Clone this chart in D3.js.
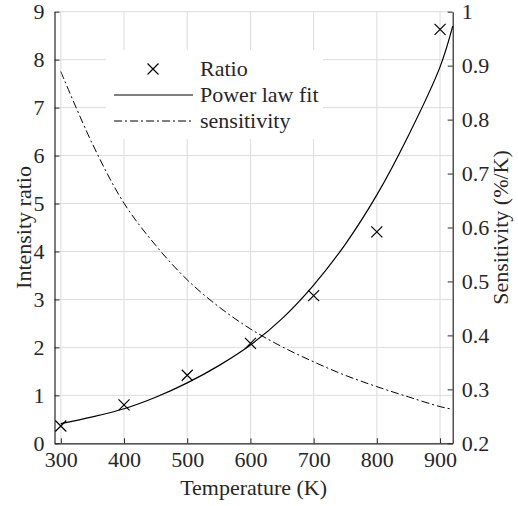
<!DOCTYPE html>
<html>
<head>
<meta charset="utf-8">
<script src="https://cdnjs.cloudflare.com/ajax/libs/d3/7.8.5/d3.min.js"></script>
<style>
  body { margin: 0; background: white; }
</style>
</head>
<body>
<div id="chart-container"></div>
<script>
// Measured ratio points
const tempPoints = [300, 400, 500, 600, 700, 800, 900];
const ratioValues = [0.36, 0.80, 1.42, 2.085, 3.08, 4.41, 8.63];

// Curves
const curveTemps = [300, 350, 400, 450, 500, 550, 600, 650, 700, 750, 800, 850, 900, 920];
const fitValues = [0.41, 0.55, 0.72, 0.96, 1.26, 1.62, 2.05, 2.6, 3.3, 4.15, 5.18, 6.42, 7.85, 8.7];
const sensitivityValues = [0.889, 0.755, 0.645, 0.567, 0.503, 0.453, 0.412, 0.379, 0.351, 0.326, 0.305, 0.286, 0.268, 0.263];

// Tick labels
const xTicks = [300, 400, 500, 600, 700, 800, 900];
const leftTicks = [0, 1, 2, 3, 4, 5, 6, 7, 8, 9];
const rightTicks = [0.2, 0.3, 0.4, 0.5, 0.6, 0.7, 0.8, 0.9, 1];

const legendLabels = ['Ratio', 'Power law fit', 'sensitivity'];

const width = 518;
const height = 506;
const margin = { top: 11.7, right: 65.3, bottom: 62.7, left: 54.5 };
const innerW = width - margin.left - margin.right;
const innerH = height - margin.top - margin.bottom;
const axisColor = '#262626';
const fontSize = 22;
const serif = 'Times New Roman, Times, Liberation Serif, Noto Serif, DejaVu Serif, serif';

const svg = d3.select('#chart-container')
  .append('svg')
  .attr('width', width)
  .attr('height', height)
  .style('font-family', serif);

const chart = svg.append('g')
  .attr('transform', `translate(${margin.left}, ${margin.top})`);

const xScale = d3.scaleLinear().domain([290, 920]).range([0, innerW]);
const yLeft = d3.scaleLinear().domain([0, 9]).range([innerH, 0]);
const yRight = d3.scaleLinear().domain([0.2, 1]).range([innerH, 0]);

// Grid
chart.append('g')
  .selectAll('line')
  .data(xTicks)
  .enter()
  .append('line')
  .attr('x1', d => xScale(d))
  .attr('x2', d => xScale(d))
  .attr('y1', 0)
  .attr('y2', innerH)
  .attr('stroke', '#dcdcdc')
  .attr('stroke-width', 1);

chart.append('g')
  .selectAll('line')
  .data(leftTicks)
  .enter()
  .append('line')
  .attr('x1', 0)
  .attr('x2', innerW)
  .attr('y1', d => yLeft(d))
  .attr('y2', d => yLeft(d))
  .attr('stroke', '#dcdcdc')
  .attr('stroke-width', 1);

// Axes (ticks pointing inward)
const xAxis = chart.append('g')
  .attr('transform', `translate(0, ${innerH})`)
  .call(d3.axisBottom(xScale).tickValues(xTicks).tickSizeInner(-5).tickSizeOuter(0).tickPadding(8));

const leftAxis = chart.append('g')
  .call(d3.axisLeft(yLeft).tickValues(leftTicks).tickSizeInner(-5).tickSizeOuter(0).tickPadding(10));

const rightAxis = chart.append('g')
  .attr('transform', `translate(${innerW}, 0)`)
  .call(d3.axisRight(yRight).tickValues(rightTicks).tickFormat(d3.format('~g')).tickSizeInner(-5).tickSizeOuter(0).tickPadding(9));

[xAxis, leftAxis, rightAxis].forEach(ax => {
  ax.attr('font-family', null).attr('font-size', fontSize);
  ax.select('.domain').attr('stroke', axisColor).attr('stroke-width', 1.2);
  ax.selectAll('.tick line').attr('stroke', axisColor).attr('stroke-width', 1);
  ax.selectAll('.tick text').attr('fill', axisColor);
});

// Axis labels
chart.append('text')
  .attr('x', innerW / 2)
  .attr('y', innerH + 51.7)
  .attr('text-anchor', 'middle')
  .attr('font-size', fontSize)
  .attr('fill', axisColor)
  .text('Temperature (K)');

chart.append('text')
  .attr('transform', 'rotate(-90)')
  .attr('x', -innerH / 2)
  .attr('y', 30.5 - margin.left)
  .attr('text-anchor', 'middle')
  .attr('font-size', fontSize)
  .attr('fill', axisColor)
  .text('Intensity ratio');

chart.append('text')
  .attr('transform', 'rotate(-90)')
  .attr('x', -innerH / 2)
  .attr('y', 508 - margin.left)
  .attr('text-anchor', 'middle')
  .attr('font-size', fontSize)
  .attr('fill', axisColor)
  .text('Sensitivity (%/K)');

// Curves
const fitLine = d3.line()
  .x((d, i) => xScale(curveTemps[i]))
  .y(d => yLeft(d))
  .curve(d3.curveCatmullRom.alpha(0.5));

const sensLine = d3.line()
  .x((d, i) => xScale(curveTemps[i]))
  .y(d => yRight(d))
  .curve(d3.curveCatmullRom.alpha(0.5));

chart.append('path')
  .datum(sensitivityValues)
  .attr('d', sensLine)
  .attr('fill', 'none')
  .attr('stroke', '#000')
  .attr('stroke-width', 1)
  .attr('stroke-dasharray', '8,3,2,3');

chart.append('path')
  .datum(fitValues)
  .attr('d', fitLine)
  .attr('fill', 'none')
  .attr('stroke', '#000')
  .attr('stroke-width', 1.2);

// Cross markers
const crossPath = s => `M${-s},${-s}L${s},${s}M${-s},${s}L${s},${-s}`;

chart.selectAll('.ratio-point')
  .data(ratioValues)
  .enter()
  .append('path')
  .attr('class', 'ratio-point')
  .attr('transform', (d, i) => `translate(${xScale(tempPoints[i])}, ${yLeft(d)})`)
  .attr('d', crossPath(5.5))
  .attr('fill', 'none')
  .attr('stroke', '#000')
  .attr('stroke-width', 1.2);

// Legend
const legend = svg.append('g')
  .attr('transform', 'translate(106, 50)');

legend.append('rect')
  .attr('width', 217)
  .attr('height', 89)
  .attr('fill', 'white');

const rowY = [19, 45, 71];

legend.append('path')
  .attr('transform', `translate(47, ${rowY[0]})`)
  .attr('d', crossPath(5.5))
  .attr('fill', 'none')
  .attr('stroke', '#000')
  .attr('stroke-width', 1.2);

legend.append('line')
  .attr('x1', 8)
  .attr('x2', 87)
  .attr('y1', rowY[1])
  .attr('y2', rowY[1])
  .attr('stroke', '#000')
  .attr('stroke-width', 1.2);

legend.append('line')
  .attr('x1', 8)
  .attr('x2', 87)
  .attr('y1', rowY[2])
  .attr('y2', rowY[2])
  .attr('stroke', '#000')
  .attr('stroke-width', 1)
  .attr('stroke-dasharray', '8,3,2,3');

legend.selectAll('.legend-label')
  .data(legendLabels)
  .enter()
  .append('text')
  .attr('class', 'legend-label')
  .attr('x', 94)
  .attr('y', (d, i) => rowY[i])
  .attr('dy', '0.33em')
  .attr('font-size', fontSize)
  .attr('fill', axisColor)
  .text(d => d);
</script>
</body>
</html>
